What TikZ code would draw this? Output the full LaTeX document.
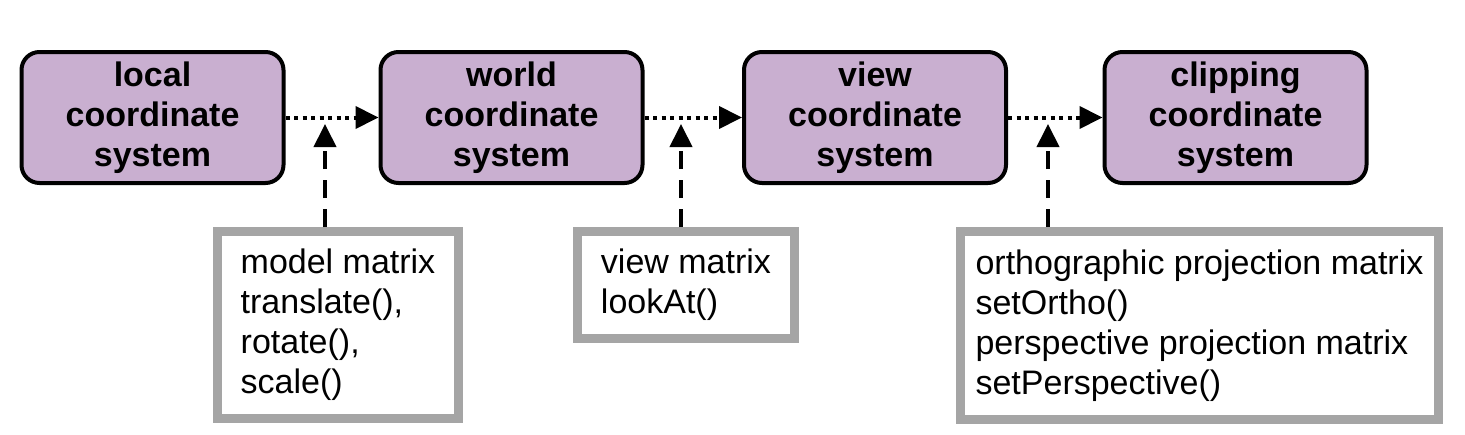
\documentclass[tikz,border=0pt]{standalone}
\usepackage{fontspec}
\setmainfont{Liberation Sans}
\usetikzlibrary{arrows.meta,calc}
\definecolor{boxpurple}{RGB}{201,175,208}
\definecolor{boxgray}{RGB}{165,165,165}
\tikzset{
  csys/.style={draw=black, fill=boxpurple, line width=4pt, rounded corners=18pt,
    minimum width=262pt, minimum height=131pt, inner sep=0pt, align=center,
    font=\fontsize{34}{40}\selectfont\bfseries},
  infobox/.style={draw=boxgray, fill=white, line width=9pt, inner xsep=10pt, inner ysep=0pt,
    align=left, font=\fontsize{34}{40}\selectfont},
  flow/.style={line width=4pt, dash pattern=on 4pt off 4.5pt, -{Triangle[length=23pt,width=22pt]}},
  feed/.style={line width=4pt, dash pattern=on 18pt off 11pt, -{Triangle[length=23pt,width=22pt]}},
}
\begin{document}
\begin{tikzpicture}[x=1pt,y=-1pt]
\useasboundingbox (0,0) rectangle (1465,434);
\node[csys] (local) at (152.5,117.5) {local\\coordinate\\system};
\node[csys] (world) at (511.5,117.5) {world\\coordinate\\system};
\node[csys] (view) at (875,117.5) {view\\coordinate\\system};
\node[csys] (clip) at (1235.5,117.5) {clipping\\coordinate\\system};

\node[infobox, minimum width=241pt, minimum height=187pt] (model) at (338,325)
  {model matrix\\translate(),\\rotate(),\\scale()};
\node[infobox, minimum width=217pt, minimum height=107pt] (viewm) at (686,285)
  {view matrix\\lookAt()};
\node[infobox, minimum width=478pt, minimum height=188pt] (proj) at (1199.5,325.5)
  {orthographic projection matrix\\setOrtho()\\perspective projection matrix\\setPerspective()};

\draw[flow] (local.east) -- (world.west);
\draw[flow] (world.east) -- (view.west);
\draw[flow] (view.east) -- (clip.west);

\coordinate (t1) at (325,124);
\coordinate (t2) at (681,124);
\coordinate (t3) at (1048,124);
\draw[feed] (t1 |- model.north) -- (t1);
\draw[feed] (t2 |- viewm.north) -- (t2);
\draw[feed] (t3 |- proj.north) -- (t3);
\end{tikzpicture}
\end{document}
